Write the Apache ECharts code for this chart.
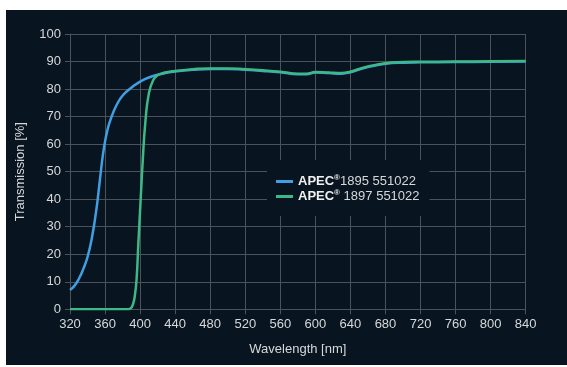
<!DOCTYPE html>
<html>
<head>
<meta charset="utf-8">
<script src="https://cdn.jsdelivr.net/npm/echarts@6/dist/echarts.min.js"></script>
<style>
html,body{margin:0;padding:0;background:#fff;width:567px;height:367px;overflow:hidden;}
#panel{position:absolute;left:6px;top:10px;width:561px;height:355px;background:#08141f;}
#chart{width:561px;height:355px;}
</style>
</head>
<body>
<div id="panel"><div id="chart"></div></div>
<script>
// Data
const xTicks = [320,360,400,440,480,520,560,600,640,680,720,760,800,840];
const yTicks = [0,10,20,30,40,50,60,70,80,90,100];

const blueName = 'APEC®1895 551022';
const blueWl = [320,325,330,335,340,345,350,352.5,355,357.5,360,362.5,365,370,375,380,385,390,400,410,420,430,440,460,480,500,520,540,560,580,590,600,615,630,640,650,660,680,700,720,760,800,840];
const blueT  = [7,8.5,11,14.5,19,26,36,42.5,49.5,56,61,64.8,67.7,72,75.3,77.6,79.2,80.5,82.7,84.2,85.2,85.9,86.4,87.0,87.3,87.3,87.0,86.6,86.1,85.4,85.4,86.0,85.8,85.6,86.1,87.1,88.0,89.2,89.6,89.7,89.8,89.9,90.0];

const greenName = 'APEC® 1897 551022';
const greenWl = [320,350,385,389,392,394,396,398,400,403,406,410,415,420,427,440,460,480,500,520,540,560,580,590,600,615,630,640,650,660,680,700,720,760,800,840];
const greenT  = [0,0,0,0.3,2,5,11,24,36,54,68,78.5,83.3,85,85.9,86.6,87.2,87.5,87.5,87.2,86.8,86.3,85.6,85.6,86.2,86.0,85.8,86.3,87.3,88.2,89.4,89.8,89.9,90.0,90.1,90.2];

const blueData = blueWl.map((w,i)=>[w, blueT[i]]);
const greenData = greenWl.map((w,i)=>[w, greenT[i]]);

const bg = '#08141f';
const gridColor = '#4b5258';
const labelColor = '#d6d8da';
const font = '"Liberation Sans", Arial, Helvetica, sans-serif';

const chart = echarts.init(document.getElementById('chart'), null, {renderer:'canvas'});
chart.setOption({
  animation: false,
  backgroundColor: bg,
  grid: {left: 59, right: 41.3, top: 24, bottom: 55.7, containLabel: false},
  xAxis: {
    type: 'value', min: 320, max: 840, interval: 40,
    name: 'Wavelength [nm]', nameLocation: 'middle', nameGap: 34,
    nameTextStyle: {color: labelColor, fontSize: 13, fontFamily: font},
    axisLine: {show: true, lineStyle: {color: gridColor, width: 1}},
    axisTick: {show: true, length: 5, lineStyle: {color: gridColor, width: 1}},
    axisLabel: {color: labelColor, fontSize: 13, fontFamily: font, margin: 9},
    splitLine: {show: true, lineStyle: {color: gridColor, width: 1}}
  },
  yAxis: {
    type: 'value', min: 0, max: 100, interval: 10,
    name: 'Transmission [%]', nameLocation: 'middle', nameGap: 43,
    nameTextStyle: {color: labelColor, fontSize: 13, fontFamily: font},
    axisLine: {show: true, lineStyle: {color: gridColor, width: 1}},
    axisTick: {show: true, length: 5, lineStyle: {color: gridColor, width: 1}},
    axisLabel: {color: labelColor, fontSize: 13, fontFamily: font, margin: 9},
    splitLine: {show: true, lineStyle: {color: gridColor, width: 1}}
  },
  legend: {
    orient: 'vertical', left: 261, top: 150,
    padding: [14, 10, 12, 9], itemGap: 0,
    itemWidth: 17, itemHeight: 3, icon: 'rect',
    backgroundColor: bg,
    data: [blueName, greenName],
    formatter: function(name){
      const rest = name.replace('APEC®','');
      return '{b|APEC}{s|®}{n|' + rest + '}';
    },
    textStyle: {
      color: labelColor, fontFamily: font, fontSize: 13, lineHeight: 15,
      rich: {
        b: {fontWeight: 'bold', fontSize: 13, color: '#f0f0f0', fontFamily: font},
        s: {fontWeight: 'bold', fontSize: 8, color: '#f0f0f0', fontFamily: font, verticalAlign: 'top', padding:[0,0,4,0]},
        n: {fontSize: 13, color: labelColor, fontFamily: font}
      }
    }
  },
  series: [
    {name: blueName, type: 'line', data: blueData, showSymbol: false, symbol: 'none',
     smooth: 0.5, color: '#3f9fe2',
     lineStyle: {width: 2.5, color: '#3f9fe2'}},
    {name: greenName, type: 'line', data: greenData, showSymbol: false, symbol: 'none',
     smooth: 0.5, color: '#3eb885',
     lineStyle: {width: 2.5, color: '#3eb885'}}
  ]
});
</script>
</body>
</html>
